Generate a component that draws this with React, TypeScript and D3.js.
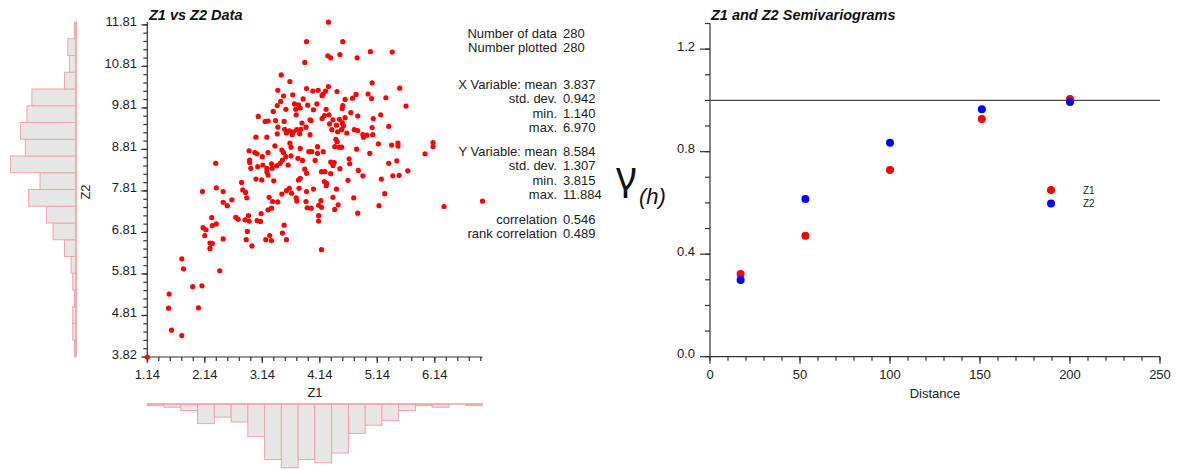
import React from 'react';
import * as d3 from 'd3';

const W = 1177;
const H = 470;
const FONT = '"Liberation Sans", Arial, Helvetica, sans-serif';

// scatter points: [Z1, Z2]
const scatterPoints: [number, number][] = [
  [3.91, 11.41], [3.88, 10.91], [3.47, 10.61], [3.62, 10.45], [3.91, 10.28], [3.41, 10.24], [3.51, 10.1], [3.67, 10.13],
  [3.85, 10.03], [3.46, 9.97], [3.4, 9.87], [3.7, 9.91], [3.77, 9.89], [3.93, 9.88], [3.55, 9.78], [3.72, 9.78],
  [3.8, 9.81], [3.33, 9.73], [3.73, 9.65], [3.07, 9.61], [3.19, 9.49], [3.24, 9.5], [3.37, 9.51], [3.52, 9.49],
  [3.83, 9.45], [3.97, 9.53], [3.41, 9.35], [3.53, 9.3], [3.61, 9.26], [3.68, 9.24], [3.74, 9.29], [3.81, 9.3],
  [3.9, 9.35], [3.03, 9.11], [3.22, 9.11], [3.4, 9.19], [3.56, 9.21], [3.66, 9.17], [3.79, 9.19], [3.97, 9.17],
  [4.29, 11.88], [4.54, 11.41], [5.02, 11.17], [5.4, 11.16], [4.28, 11.07], [4.33, 11.02], [4.49, 11.1], [4.79, 11.02],
  [5.05, 10.42], [4.29, 10.33], [5.53, 10.29], [4.02, 10.22], [4.11, 10.24], [4.24, 10.22], [4.44, 10.21], [4.2, 10.15],
  [4.18, 10.11], [4.98, 10.15], [4.77, 10.14], [4.71, 10.05], [4.58, 10.02], [5.04, 10.04], [5.29, 10.06], [4.09, 9.91],
  [5.64, 9.86], [4.54, 9.87], [4.53, 9.8], [4.03, 9.77], [4.25, 9.78], [4.3, 9.65], [4.22, 9.63], [4.18, 9.56],
  [4.68, 9.7], [4.8, 9.62], [5.2, 9.65], [4.58, 9.58], [4.48, 9.54], [4.37, 9.53], [5.07, 9.56], [3.99, 9.51],
  [4.31, 9.43], [4.53, 9.46], [4.43, 9.4], [4.55, 9.38], [5.34, 9.37], [5.05, 9.34], [4.35, 9.29], [4.52, 9.29],
  [4.74, 9.29], [4.8, 9.27], [4.45, 9.24], [4.61, 9.21], [4.89, 9.17], [4.96, 9.16], [5.06, 9.17], [4.9, 9.11],
  [4.42, 9.06],
  [2.91, 8.78], [3.01, 8.74], [3.05, 8.71], [3.14, 8.64], [3.24, 8.74], [3.36, 8.9], [3.48, 8.8], [3.51, 8.74],
  [3.62, 8.97], [3.64, 8.87], [3.8, 8.84], [3.95, 8.76], [2.92, 8.56], [2.92, 8.5], [2.33, 8.48], [2.94, 8.36],
  [3.06, 8.4], [3.15, 8.44], [3.22, 8.36], [3.3, 8.47], [3.31, 8.36], [3.39, 8.42], [3.45, 8.48], [3.49, 8.56],
  [3.55, 8.64], [3.59, 8.44], [3.64, 8.66], [3.76, 8.6], [3.84, 8.55], [3.88, 8.34], [3.91, 8.24], [3.22, 8.28],
  [3.24, 8.2], [3.34, 8.06], [3.03, 8.1], [3.13, 8.08], [2.78, 8.02], [3.77, 8.08], [3.8, 8.12], [2.1, 7.8],
  [2.34, 7.89], [2.46, 7.8], [2.8, 7.84], [2.85, 7.78], [2.87, 7.65], [3.61, 7.88], [3.56, 7.82], [3.65, 7.76],
  [3.78, 7.88], [3.91, 7.8], [3.48, 7.74], [3.26, 7.66], [3.73, 7.65], [3.32, 7.56], [3.41, 7.55], [3.74, 7.57],
  [3.9, 7.56], [2.46, 7.54], [2.61, 7.6], [2.53, 7.46], [3.3, 7.4], [3.24, 7.36], [3.92, 7.41], [3.12, 7.27],
  [2.9, 7.22], [2.68, 7.18], [2.72, 7.13], [2.84, 7.12], [2.91, 7.09], [3.05, 7.1], [3.11, 7.08], [2.26, 7.17],
  [2.34, 7.02], [2.27, 6.98], [2.11, 6.93], [2.16, 6.88], [2.88, 6.84], [3.52, 6.99], [2.14, 6.74], [3.49, 6.8],
  [3.27, 6.74], [2.46, 6.66], [2.86, 6.64], [3.2, 6.64], [3.3, 6.62], [3.56, 6.64], [2.23, 6.56], [2.27, 6.55],
  [2.23, 6.43], [2.96, 6.49],
  [4.1, 8.88], [4.0, 8.76], [4.1, 8.72], [4.2, 8.76], [4.4, 8.88], [4.48, 8.87], [4.52, 8.87], [4.44, 9.0],
  [4.78, 8.82], [5.01, 8.72], [5.16, 8.95], [5.39, 8.92], [5.5, 8.97], [5.5, 8.9], [4.06, 8.55], [4.33, 8.51],
  [4.39, 8.5], [4.37, 8.43], [4.65, 8.59], [4.66, 8.47], [4.49, 8.35], [5.34, 8.48], [5.48, 8.54], [5.67, 8.3],
  [4.17, 8.28], [4.23, 8.28], [4.33, 8.23], [4.81, 8.31], [4.89, 8.18], [5.41, 8.18], [5.52, 8.19], [5.21, 8.1],
  [4.63, 8.07], [4.22, 8.04], [4.26, 8.0], [4.25, 7.94], [4.03, 7.86], [4.43, 7.86], [5.27, 7.75], [4.37, 7.66],
  [4.73, 7.65], [4.16, 7.58], [4.12, 7.47], [4.17, 7.42], [4.46, 7.48], [3.99, 7.4], [4.4, 7.37], [5.17, 7.46],
  [4.8, 7.28], [4.12, 7.22], [4.12, 7.09], [4.17, 6.4], [5.97, 8.71],
  [6.11, 8.98], [6.11, 8.88], [6.3, 7.44], [6.97, 7.57], [1.74, 6.18], [1.77, 5.94], [1.52, 5.33], [1.93, 5.51],
  [2.09, 5.53], [2.4, 5.89], [1.51, 4.99], [2.03, 5.0], [1.56, 4.46], [1.74, 4.33], [1.14, 3.815],
];

const z1Range = [1.14, 6.97];
const z2Range = [3.815, 11.884];
// 20 equal bins over each variable's range
const z1BinCounts = [1, 2, 4, 12, 8, 11, 20, 34, 39, 34, 36, 30, 18, 13, 10, 4, 1, 2, 0, 1];
const z2BinCounts = [1, 2, 2, 1, 2, 3, 7, 14, 18, 29, 22, 40, 31, 34, 30, 27, 7, 4, 5, 1];

const z1Ticks = [1.14, 2.14, 3.14, 4.14, 5.14, 6.14];
const z1TickLabels = ['1.14', '2.14', '3.14', '4.14', '5.14', '6.14'];
const z2Ticks = [3.815, 4.815, 5.815, 6.815, 7.815, 8.815, 9.815, 10.815, 11.815];
const z2TickLabels = ['3.82', '4.81', '5.81', '6.81', '7.81', '8.81', '9.81', '10.81', '11.81'];

const statBlocks = [
  { labels: ['Number of data', 'Number plotted'], values: ['280', '280'] },
  { labels: ['X Variable: mean', 'std. dev.', 'min.', 'max.'], values: ['3.837', '0.942', '1.140', '6.970'] },
  { labels: ['Y Variable: mean', 'std. dev.', 'min.', 'max.'], values: ['8.584', '1.307', '3.815', '11.884'] },
  { labels: ['correlation', 'rank correlation'], values: ['0.546', '0.489'] },
];

// semivariogram
const lagDistance = [17, 53, 100, 151, 200];
const gammaZ1 = [0.323, 0.472, 0.728, 0.927, 1.005];
const gammaZ2 = [0.299, 0.615, 0.835, 0.965, 0.994];
const sill = 1.0;
const gammaTicks = [0, 0.4, 0.8, 1.2];
const distTicks = [0, 50, 100, 150, 200, 250];
const seriesNames = ['Z1', 'Z2'];
const seriesColors = ['#ff0000', '#0000ff'];

const AXIS = '#333';
const HIST_STROKE = '#f3a3a3';
const HIST_FILL = '#e6e6e6';

const App = () => {
  // scatter scales
  const sx = d3.scaleLinear().domain(z1Range).range([147.3, 482.5]);
  const sy = d3.scaleLinear().domain(z2Range).range([357, 22]);
  const countScale = d3.scaleLinear().domain([0, 41]).range([0, 67]);

  const z1Edges = d3.range(21).map(i => z1Range[0] + (i * (z1Range[1] - z1Range[0])) / 20);
  const z2Edges = d3.range(21).map(i => z2Range[0] + (i * (z2Range[1] - z2Range[0])) / 20);

  const z1Minor = d3.range(0, 30).map(i => z1Range[0] + i * 0.2).filter(v => v <= z1Range[1] + 1e-6);
  const z2Minor = d3.range(0, 41).map(i => z2Range[0] + i * 0.2).filter(v => v <= z2Range[1] + 1e-6);

  const histLeftX = 76;
  const histBottomY = 404;

  // semivariogram scales
  const gx = d3.scaleLinear().domain([0, 250]).range([710, 1160]);
  const gy = d3.scaleLinear().domain([0, 1.3]).range([356.7, 23.5]);
  const gyMinor = d3.range(0, 14).map(i => i * 0.1);
  const gxMinor = d3.range(0, 26).map(i => i * 10);

  const statY0 = [38, 89, 156, 223.5];
  const rowStep = 14.4;

  return (
    <svg
      width={W}
      height={H}
      style={{ position: 'absolute', left: 0, top: 0, background: '#fff' }}
      fontFamily={FONT}
    >
      {/* ---- Z2 histogram (left) ---- */}
      <g>
        {z2BinCounts.map((c, i) =>
          c > 0 ? (
            <rect
              key={i}
              x={histLeftX - countScale(c)}
              y={sy(z2Edges[i + 1])}
              width={countScale(c)}
              height={sy(z2Edges[i]) - sy(z2Edges[i + 1])}
              fill={HIST_FILL}
              stroke={HIST_STROKE}
              strokeWidth={1}
            />
          ) : null
        )}
        <line x1={histLeftX} x2={histLeftX} y1={sy(z2Range[1])} y2={sy(z2Range[0])} stroke={HIST_STROKE} strokeWidth={1.5} />
      </g>

      {/* ---- Z1 histogram (bottom) ---- */}
      <g>
        {z1BinCounts.map((c, i) =>
          c > 0 ? (
            <rect
              key={i}
              x={sx(z1Edges[i])}
              y={histBottomY}
              width={sx(z1Edges[i + 1]) - sx(z1Edges[i])}
              height={countScale(c)}
              fill={HIST_FILL}
              stroke={HIST_STROKE}
              strokeWidth={1}
            />
          ) : null
        )}
        <line x1={sx(z1Range[0])} x2={sx(z1Range[1])} y1={histBottomY} y2={histBottomY} stroke={HIST_STROKE} strokeWidth={1.5} />
      </g>

      {/* ---- scatter axes ---- */}
      <text x={149} y={20} fontSize={14.5} fontWeight="bold" fontStyle="italic" fill="#111">Z1 vs Z2 Data</text>
      <g stroke={AXIS} strokeWidth={1.2}>
        <line x1={sx(z1Range[0])} x2={sx(z1Range[0])} y1={sy(z2Range[1])} y2={sy(z2Range[0])} />
        <line x1={sx(z1Range[0])} x2={sx(z1Range[1])} y1={sy(z2Range[0])} y2={sy(z2Range[0])} />
        {z2Minor.map((v, i) => (
          <line key={'ym' + i} x1={sx(z1Range[0]) - 4} x2={sx(z1Range[0])} y1={sy(v)} y2={sy(v)} />
        ))}
        {z2Ticks.map((v, i) => (
          <line key={'yM' + i} x1={sx(z1Range[0]) - 6} x2={sx(z1Range[0])} y1={sy(v)} y2={sy(v)} />
        ))}
        {z1Minor.map((v, i) => (
          <line key={'xm' + i} x1={sx(v)} x2={sx(v)} y1={sy(z2Range[0])} y2={sy(z2Range[0]) + 4} />
        ))}
        {z1Ticks.map((v, i) => (
          <line key={'xM' + i} x1={sx(v)} x2={sx(v)} y1={sy(z2Range[0])} y2={sy(z2Range[0]) + 6} />
        ))}
      </g>
      <g fontSize={13} fill="#222">
        {z2Ticks.map((v, i) => (
          <text key={i} x={137} y={sy(v) + 1.5} textAnchor="end">{z2TickLabels[i]}</text>
        ))}
        {z1Ticks.map((v, i) => (
          <text key={i} x={sx(v)} y={379} textAnchor="middle">{z1TickLabels[i]}</text>
        ))}
        <text x={315} y={397} textAnchor="middle">Z1</text>
        <text transform="translate(90,192) rotate(-90)" textAnchor="middle">Z2</text>
      </g>

      {/* ---- scatter points ---- */}
      <g fill="#ff0000">
        {scatterPoints.map((p, i) => (
          <circle key={i} cx={sx(p[0])} cy={sy(p[1])} r={2.6} />
        ))}
      </g>

      {/* ---- summary statistics ---- */}
      <g fontSize={13} fill="#222">
        {statBlocks.map((b, bi) =>
          b.labels.map((l, li) => (
            <g key={bi + '-' + li}>
              <text x={557} y={statY0[bi] + li * rowStep} textAnchor="end">{l}</text>
              <text x={563} y={statY0[bi] + li * rowStep}>{b.values[li]}</text>
            </g>
          ))
        )}
      </g>

      {/* ---- semivariogram ---- */}
      <text x={711} y={20} fontSize={14.5} fontWeight="bold" fontStyle="italic" fill="#111">Z1 and Z2 Semivariograms</text>
      <g stroke={AXIS} strokeWidth={1.2}>
        <line x1={gx(0)} x2={gx(0)} y1={gy(1.3)} y2={gy(0)} />
        <line x1={gx(0)} x2={gx(250)} y1={gy(0)} y2={gy(0)} />
        {gyMinor.map((v, i) => (
          <line key={'gm' + i} x1={gx(0) - 5} x2={gx(0)} y1={gy(v)} y2={gy(v)} />
        ))}
        {gammaTicks.map((v, i) => (
          <line key={'gM' + i} x1={gx(0) - 10} x2={gx(0)} y1={gy(v)} y2={gy(v)} />
        ))}
        {gxMinor.map((v, i) => (
          <line key={'dm' + i} x1={gx(v)} x2={gx(v)} y1={gy(0)} y2={gy(0) + 4} />
        ))}
        {distTicks.map((v, i) => (
          <line key={'dM' + i} x1={gx(v)} x2={gx(v)} y1={gy(0)} y2={gy(0) + 7} />
        ))}
      </g>
      <line x1={gx(0)} x2={gx(250)} y1={gy(sill)} y2={gy(sill)} stroke="#444" strokeWidth={1.2} />
      <g fontSize={13} fill="#222">
        {gammaTicks.map((v, i) => (
          <text key={i} x={695} y={gy(v) + 1.5} textAnchor="end">{v.toFixed(1)}</text>
        ))}
        {distTicks.map((v, i) => (
          <text key={i} x={gx(v)} y={379} textAnchor="middle">{v}</text>
        ))}
        <text x={935} y={398} textAnchor="middle">Distance</text>
      </g>
      <text x={616} y={190} fontSize={40} fontFamily='"Noto Sans", "Open Sans", sans-serif' fill="#111">γ</text>
      <text x={639} y={204} fontSize={22} fontStyle="italic" fill="#111">(h)</text>

      <g>
        {lagDistance.map((d, i) => (
          <circle key={'a' + i} cx={gx(d)} cy={gy(gammaZ1[i])} r={4} fill={seriesColors[0]} />
        ))}
        {lagDistance.map((d, i) => (
          <circle key={'b' + i} cx={gx(d)} cy={gy(gammaZ2[i])} r={4} fill={seriesColors[1]} />
        ))}
      </g>

      {/* legend */}
      <g fontSize={10} fill="#222">
        {seriesNames.map((n, i) => (
          <g key={n}>
            <circle cx={1051} cy={190 + i * 13.5} r={4} fill={seriesColors[i]} />
            <text x={1083} y={190 + i * 13.5 + 3.5}>{n}</text>
          </g>
        ))}
      </g>
    </svg>
  );
};

export default App;
